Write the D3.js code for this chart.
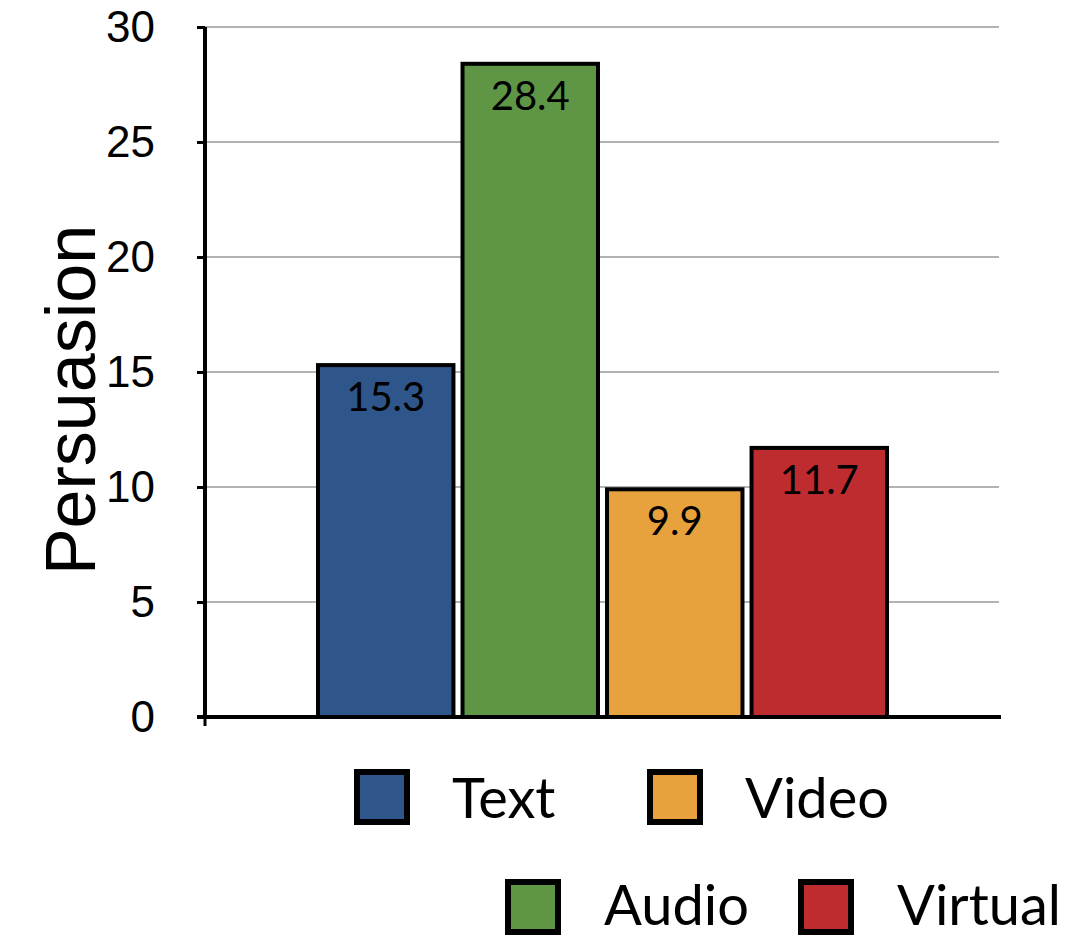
<!DOCTYPE html>
<html>
<head>
<meta charset="utf-8">
<script src="https://cdn.jsdelivr.net/npm/d3@7/dist/d3.min.js"></script>
<style>
  html, body { margin: 0; padding: 0; background: #fff; }
  svg { display: block; }
</style>
</head>
<body>
<svg id="chart" width="1071" height="937"></svg>
<script>
// Persuasion score by presentation medium
const categories = ["Text", "Audio", "Video", "Virtual"];
const values = [15.3, 28.4, 9.9, 11.7];
const colors = ["#2F568A", "#5E9646", "#E8A23D", "#BE2C30"];
const yTicks = [0, 5, 10, 15, 20, 25, 30];
const legendRows = [["Text", "Video"], ["Audio", "Virtual"]];

const svg = d3.select("#chart");
const labelFont = "Lato, 'Open Sans', sans-serif";
const axisFont = "'Liberation Sans', Arial, sans-serif";

const plotLeft = 205, plotRight = 1001;
const y = d3.scaleLinear().domain([0, 30]).range([717, 27]);
const x = d3.scaleBand().domain(categories).range([316, 889]).paddingInner(0.035).paddingOuter(0);
const color = d3.scaleOrdinal().domain(categories).range(colors);

// horizontal gridlines
svg.append("g")
  .selectAll("line")
  .data(yTicks.filter(t => t > 0))
  .join("line")
  .attr("x1", plotLeft).attr("x2", plotRight - 2)
  .attr("y1", d => y(d)).attr("y2", d => y(d))
  .attr("stroke", "#9a9a9a").attr("stroke-width", 1.5);

// y axis
const yAxis = svg.append("g")
  .attr("transform", `translate(${plotLeft},0)`)
  .call(d3.axisLeft(y).tickValues(yTicks).tickSize(8).tickPadding(42).tickFormat(d3.format("d")));
yAxis.select(".domain").attr("stroke", "#000").attr("stroke-width", 4)
  .attr("d", `M0,${y(30)}V${y(0)}`);
yAxis.selectAll(".tick line").attr("stroke", "#000").attr("stroke-width", 3);
yAxis.selectAll(".tick text")
  .attr("font-family", axisFont).attr("font-size", 44).attr("fill", "#000");

// bars
const bars = svg.append("g");
const sw = 4;
bars.selectAll("rect")
  .data(categories)
  .join("rect")
  .attr("x", d => x(d) + sw / 2)
  .attr("width", x.bandwidth() - sw)
  .attr("y", (d, i) => y(values[i]))
  .attr("height", (d, i) => y(0) - y(values[i]))
  .attr("fill", d => color(d))
  .attr("stroke", "#000").attr("stroke-width", sw);

// value labels inside the bar tops
bars.selectAll("text")
  .data(categories)
  .join("text")
  .attr("x", d => x(d) + x.bandwidth() / 2)
  .attr("y", (d, i) => y(values[i]) + 46)
  .attr("text-anchor", "middle")
  .attr("font-family", labelFont).attr("font-size", 40)
  .attr("fill", "#000")
  .text((d, i) => values[i].toFixed(1));

// x axis baseline with the zero tick extending below
svg.append("line")
  .attr("x1", plotLeft - 8).attr("x2", plotRight)
  .attr("y1", y(0)).attr("y2", y(0))
  .attr("stroke", "#000").attr("stroke-width", 4);
svg.append("line")
  .attr("x1", plotLeft).attr("x2", plotLeft)
  .attr("y1", y(0)).attr("y2", y(0) + 9)
  .attr("stroke", "#000").attr("stroke-width", 3);

// y axis title
svg.append("text")
  .attr("transform", "translate(95,400) rotate(-90)")
  .attr("text-anchor", "middle")
  .attr("font-family", axisFont).attr("font-size", 70)
  .attr("fill", "#000")
  .text("Persuasion");

// legend, two rows
const legendLayout = [
  { items: [{ sx: 354, tx: 452 }, { sx: 647, tx: 745 }], top: 769, base: 818 },
  { items: [{ sx: 505, tx: 604 }, { sx: 798, tx: 897 }], top: 879, base: 925 }
];
const box = 56, boxStroke = 6;
const legend = svg.append("g");
legendLayout.forEach((r, ri) => {
  r.items.forEach((it, ii) => {
    const key = legendRows[ri][ii];
    legend.append("rect")
      .attr("x", it.sx + boxStroke / 2).attr("y", r.top + boxStroke / 2)
      .attr("width", box - boxStroke).attr("height", box - boxStroke)
      .attr("fill", color(key))
      .attr("stroke", "#000").attr("stroke-width", boxStroke);
    legend.append("text")
      .attr("x", it.tx).attr("y", r.base)
      .attr("font-family", labelFont).attr("font-size", 56)
      .attr("fill", "#000")
      .text(key);
  });
});
</script>
</body>
</html>
